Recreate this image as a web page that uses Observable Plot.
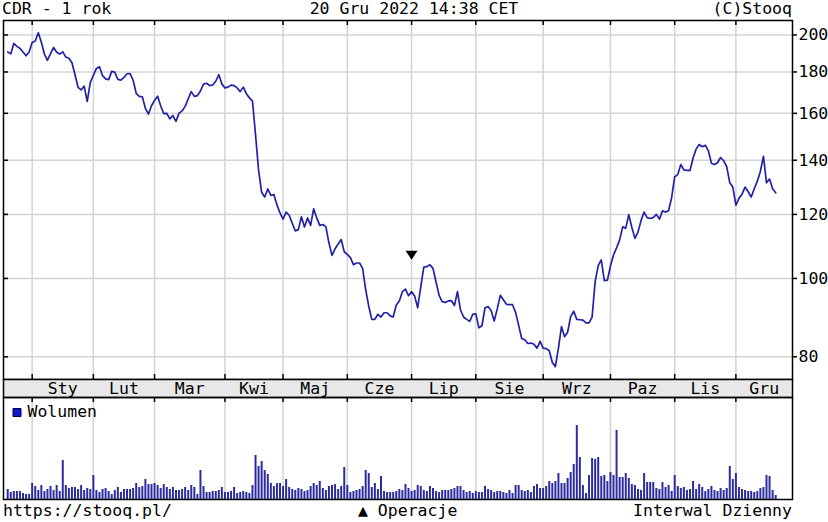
<!DOCTYPE html>
<html><head><meta charset="utf-8">
<script src="https://cdn.jsdelivr.net/npm/d3@7"></script>
<script src="https://cdn.jsdelivr.net/npm/@observablehq/plot@0.6"></script>
<style>
html,body{margin:0;padding:0;background:#fff;}
#chart{position:relative;width:828px;height:522px;overflow:hidden;background:#fff;font-family:"DejaVu Sans Mono",monospace;font-size:16.5px;color:#000;}
#chart svg{position:absolute;left:0;}
.t{position:absolute;line-height:20px;white-space:pre;}
</style></head><body><div id="chart">
<div class="t" style="left:2px;top:-1.5px;">CDR - 1 rok</div>
<div class="t" style="left:0;width:828px;text-align:center;top:-1.5px;">20 Gru 2022 14:38 CET</div>
<div class="t" style="right:36px;top:-1.5px;">(C)Stooq</div>
<div class="t" style="left:3px;top:501px;">https://stooq.pl/</div>
<div class="t" style="left:358px;top:501px;">▲ Operacje</div>
<div class="t" style="right:36px;top:501px;">Interwal Dzienny</div>
</div>
<script>
// ---- data ----
const monthNames = ["Sty","Lut","Mar","Kwi","Maj","Cze","Lip","Sie","Wrz","Paz","Lis","Gru"];
// trading sessions per month: Dec 2021 (from 20th), Jan..Dec 2022 (to 20th)
const monthSessions = [8,20,20,23,19,21,21,21,22,22,21,20,14];
const priceTicks = [80,100,120,140,160,180,200];
// closing prices (PLN), one per session
const close = [
190.5,189.5,195.2,193.6,192.6,190.5,188.5,190.5,195.8,196.6,
201.3,195.9,189.4,186.1,189.7,193.0,190.4,189.4,190.6,187.8,
187.2,184.8,178.6,172.3,171.0,172.9,165.5,174.7,178.3,181.8,
182.7,178.1,176.5,176.1,180.3,179.9,176.2,175.9,177.2,179.1,
179.2,175.8,169.4,167.9,167.7,162.3,159.6,163.5,166.0,168.0,
163.5,159.9,160.0,157.5,159.0,156.4,160.1,161.1,163.2,166.8,
170.2,167.9,168.3,170.5,173.9,174.3,173.2,173.4,175.3,178.6,
174.0,172.0,172.4,173.4,173.1,172.0,170.2,172.4,169.2,167.2,
165.7,150.6,136.1,127.8,126.1,129.0,126.7,127.0,123.3,120.5,
118.4,120.8,119.7,117.0,114.5,114.9,119.2,115.8,118.8,116.3,
121.9,118.8,116.3,116.6,115.8,110.6,106.8,108.8,110.3,111.7,
107.9,107.1,106.1,104.0,104.5,104.5,102.9,96.9,92.4,89.0,
89.0,90.3,89.6,90.7,90.7,89.9,89.6,92.7,93.8,96.3,
97.0,95.2,96.3,95.1,92.0,97.6,103.3,103.4,104.0,102.9,
99.0,95.3,93.6,93.4,93.8,93.9,92.6,96.3,91.4,89.6,
89.0,88.5,90.3,90.4,86.9,87.4,92.0,92.3,91.3,88.6,
91.7,95.3,94.1,92.9,92.8,92.8,90.8,87.5,84.3,84.0,
83.1,83.2,82.9,82.0,83.6,82.0,81.9,81.4,78.7,77.8,
82.0,87.2,84.7,85.8,89.7,91.1,89.0,88.9,88.8,88.1,
88.1,89.6,99.1,103.7,105.4,99.4,99.5,103.6,106.9,109.1,
111.6,115.8,115.4,119.9,115.6,112.1,114.1,117.9,120.8,118.9,
118.6,118.9,120.0,118.4,121.2,120.8,121.3,125.9,133.6,134.4,
138.3,136.2,136.0,136.0,140.9,144.5,146.4,145.5,146.1,143.9,
138.8,138.3,139.0,141.1,139.8,137.5,131.3,129.7,123.2,125.6,
127.1,129.7,128.0,126.1,129.1,131.9,135.6,141.6,131.3,132.7,
129.1,127.6
];
// volume (thousand shares), one per session
const volume = [
300,210,240,240,240,180,150,150,
480,390,270,420,240,300,390,270,420,240,1170,420,330,360,360,300,420,270,330,300,
720,270,210,300,330,240,150,270,360,210,300,300,300,330,480,360,390,600,450,450,
480,420,330,450,360,300,360,270,270,300,360,270,420,360,150,870,390,210,210,240,240,270,360,
210,210,240,360,180,210,240,210,180,420,1320,990,1140,870,750,480,390,480,480,
390,600,360,300,270,330,300,240,270,390,480,420,540,330,270,390,420,450,300,390,960,
420,210,240,270,300,390,870,780,360,480,300,690,240,210,210,210,240,300,270,450,330,
240,270,420,390,270,240,390,330,240,210,270,270,270,300,330,390,390,270,210,240,180,
240,210,210,390,300,270,210,240,240,210,180,270,180,420,420,270,240,270,210,390,450,330,
330,390,540,480,540,780,480,480,630,810,1050,2220,1260,420,180,720,1230,1200,1260,690,720,540,
810,720,2070,660,660,780,630,450,420,300,270,780,510,510,510,330,300,510,360,420,240,
720,390,330,360,270,300,540,300,450,360,240,300,390,270,240,330,270,330,990,600,
780,360,300,270,240,240,210,240,330,360,720,690,270,120
];
// session index with a corporate operation marker
const operationSessions = [132];

// ---- derived ----
const starts = [0];
monthSessions.forEach(n => starts.push(starts[starts.length - 1] + n));
const monthStarts = starts.slice(1, 13);
const xDomain = [-1.37, 256.5];
const months = monthNames.map((name, k) => ({
  name, x: (monthStarts[k] + (k < 11 ? monthStarts[k + 1] : xDomain[1])) / 2
}));
const days = close.map((c, i) => ({i, c, v: volume[i]}));

const W = 828, ML = 3, MR = 36;
const frameW = W - ML - MR;
const pxPerSession = frameW / (xDomain[1] - xDomain[0]);
const font = {fontFamily: "'DejaVu Sans Mono', monospace", fontSize: "16.5px", background: "transparent", color: "#000", overflow: "visible"};
const gridColor = "#d4d4d4";
const lineBlue = "#2222a8";
const downTriangle = {draw(ctx, size) {
  const s = Math.sqrt(size);
  ctx.moveTo(-0.75 * s, -0.375 * s);
  ctx.lineTo(0.75 * s, -0.375 * s);
  ctx.lineTo(0, 0.75 * s);
  ctx.closePath();
}};

const chart = document.getElementById("chart");

// main price panel
const mainH = 380, mainTop = 20;
const mainFrameH = mainH - mainTop - 1;
const main = Plot.plot({
  width: W, height: mainH, marginTop: mainTop, marginBottom: 1, marginLeft: ML, marginRight: MR,
  style: font,
  x: {domain: xDomain, axis: null},
  y: {type: "log", domain: [75.0, 208.4], axis: null},
  marks: [
    Plot.ruleY(priceTicks, {stroke: gridColor, strokeWidth: 1.5}),
    Plot.ruleX(monthStarts, {stroke: gridColor, strokeWidth: 1.5}),
    Plot.tickX(monthStarts, {insetBottom: mainFrameH - 5, stroke: "#000", strokeWidth: 1.5}),
    Plot.tickX(monthStarts, {insetTop: mainFrameH - 5, stroke: "#000", strokeWidth: 1.5}),
    Plot.tickY(priceTicks, {insetRight: frameW - 5, stroke: "#000", strokeWidth: 1.5}),
    // outward ticks and labels on the right
    Plot.ruleY(priceTicks, {x1: xDomain[1], x2: xDomain[1] + 5 / pxPerSession, stroke: "#000", strokeWidth: 1.5}),
    Plot.text(priceTicks, {y: d => d, text: d => String(d), frameAnchor: "right", dx: 6, textAnchor: "start", lineAnchor: "middle", fill: "#000"}),
    Plot.line(days, {x: "i", y: "c", stroke: lineBlue, strokeWidth: 1.7}),
    Plot.dot(operationSessions, {x: d => d, y: d => close[d], symbol: downTriangle, r: 4.5, fill: "#000", stroke: "none", dy: -38}),
    Plot.frame({stroke: "#000", strokeWidth: 1.5})
  ]
});
main.style.top = "0px";
chart.appendChild(main);

// month band
const band = Plot.plot({
  width: W, height: 20, marginTop: 1, marginBottom: 1, marginLeft: ML, marginRight: MR,
  style: font,
  x: {domain: xDomain, axis: null},
  marks: [
    Plot.frame({fill: "#e8e8e8", stroke: "#000", strokeWidth: 1.5}),
    Plot.text(months, {x: "x", text: "name", fill: "#000"})
  ]
});
band.style.top = "378px";
chart.appendChild(band);

// volume panel
const volH = 104;
const vol = Plot.plot({
  width: W, height: volH, marginTop: 1, marginBottom: 1, marginLeft: ML, marginRight: MR,
  style: font,
  x: {domain: xDomain, axis: null},
  y: {domain: [0, 3060], axis: null},
  marks: [
    Plot.ruleX(monthStarts, {stroke: gridColor, strokeWidth: 1.5}),
    Plot.tickX(monthStarts, {insetBottom: volH - 2 - 5, stroke: "#000", strokeWidth: 1.5}),
    Plot.ruleX(days, {x: "i", y1: 0, y2: "v", stroke: "#2c2ca0", strokeWidth: 2}),
    Plot.dot(["Wolumen"], {frameAnchor: "top-left", dx: 13.5, dy: 15, symbol: "square", r: 4.5, fill: "#1414c8", stroke: "#00005a", strokeWidth: 1}),
    Plot.text(["Wolumen"], {frameAnchor: "top-left", text: d => d, dx: 24, dy: 14, textAnchor: "start", lineAnchor: "middle", fill: "#000"}),
    Plot.frame({stroke: "#000", strokeWidth: 1.5})
  ]
});
vol.style.top = "396px";
chart.appendChild(vol);
</script></body></html>
